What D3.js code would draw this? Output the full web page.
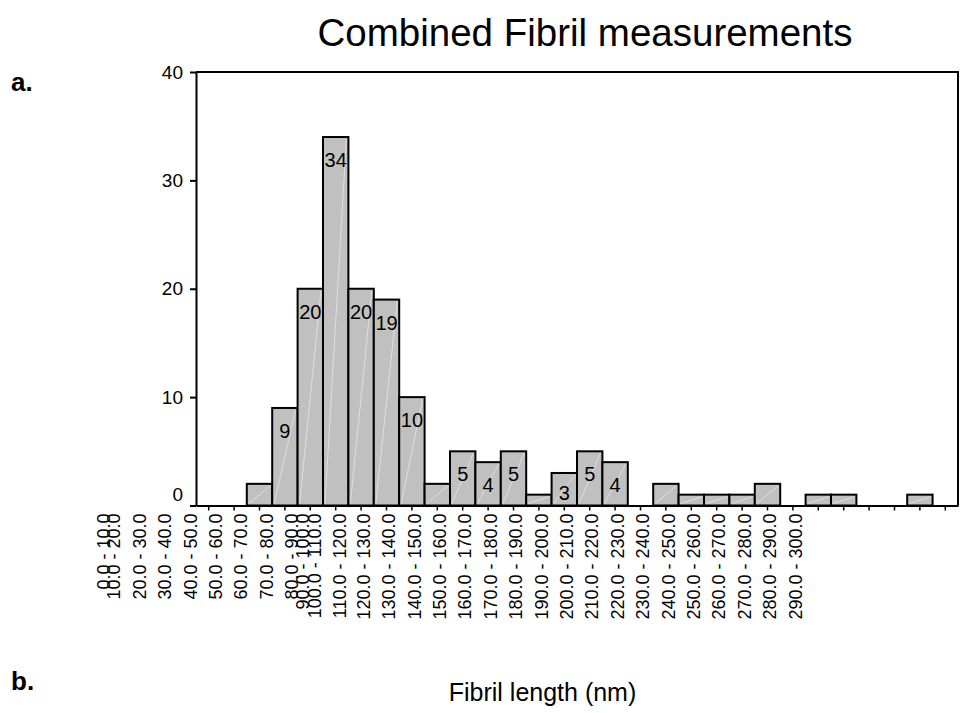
<!DOCTYPE html>
<html>
<head>
<meta charset="utf-8">
<script src="https://cdn.jsdelivr.net/npm/d3@7"></script>
<style>
  html, body { margin: 0; padding: 0; background: #fff; }
  svg { display: block; }
  svg text { font-family: "Liberation Sans", Arial, sans-serif; }
</style>
</head>
<body>
<svg id="chart" width="969" height="713"></svg>
<script>
// Length bins (nm) used as categories
const binLabels = [
  "0.0 - 10.0", "10.0 - 20.0", "20.0 - 30.0", "30.0 - 40.0", "40.0 - 50.0",
  "50.0 - 60.0", "60.0 - 70.0", "70.0 - 80.0", "80.0 - 90.0", "90.0 - 100.0",
  "100.0 - 110.0", "110.0 - 120.0", "120.0 - 130.0", "130.0 - 140.0", "140.0 - 150.0",
  "150.0 - 160.0", "160.0 - 170.0", "170.0 - 180.0", "180.0 - 190.0", "190.0 - 200.0",
  "200.0 - 210.0", "210.0 - 220.0", "220.0 - 230.0", "230.0 - 240.0", "240.0 - 250.0",
  "250.0 - 260.0", "260.0 - 270.0", "270.0 - 280.0", "280.0 - 290.0", "290.0 - 300.0"
];
// Number of fibrils in each bin
const counts = [0, 0, 2, 9, 20, 34, 20, 19, 10, 2, 5, 4, 5, 1, 3, 5, 4, 0, 2, 1, 1, 1, 2, 0, 1, 1, 0, 0, 1, 0];
const yTicks = [0, 10, 20, 30, 40];
const minLabelled = 3;

const svg = d3.select("#chart");
const plot = { left: 196, right: 958, top: 72, bottom: 505.5 };

const x = d3.scaleBand().domain(binLabels).range([plot.left, plot.right]).padding(0);
const y = d3.scaleLinear().domain([0, 40]).range([plot.bottom, plot.top]);

// Title and panel letters
svg.append("text").attr("x", 585).attr("y", 46).attr("text-anchor", "middle")
  .style("font-size", "38.5px").text("Combined Fibril measurements");
svg.append("text").attr("x", 11).attr("y", 91).style("font-size", "26px").style("font-weight", "bold").text("a.");
svg.append("text").attr("x", 11).attr("y", 690).style("font-size", "26px").style("font-weight", "bold").text("b.");
svg.append("text").attr("x", 542.5).attr("y", 701).attr("text-anchor", "middle")
  .style("font-size", "25px").text("Fibril length (nm)");

// Bars
const data = binLabels.map((b, i) => ({ bin: b, n: counts[i] }));
const bars = svg.append("g");
bars.selectAll("rect").data(data.filter(d => d.n > 0)).join("rect")
  .attr("x", d => x(d.bin)).attr("y", d => y(d.n))
  .attr("width", x.bandwidth()).attr("height", d => y(0) - y(d.n))
  .attr("fill", "#c0c0c0").attr("stroke", "#000").attr("stroke-width", 2);
// faint sheen across each bar
bars.selectAll("line").data(data.filter(d => d.n > 0)).join("line")
  .attr("x1", d => x(d.bin) + 2).attr("y1", y(0) - 2)
  .attr("x2", d => x(d.bin) + x.bandwidth() - 2).attr("y2", d => y(d.n) + 2)
  .attr("stroke", "#e6e6e6").attr("stroke-width", 1).attr("opacity", 0.8);

// Value labels inside bar tops
svg.append("g").selectAll("text").data(data.filter(d => d.n >= minLabelled)).join("text")
  .attr("x", d => x(d.bin) + x.bandwidth() / 2)
  .attr("y", d => Math.min(y(d.n) + 23, y(0) - 13))
  .attr("dy", "0.35em").attr("text-anchor", "middle")
  .style("font-size", "20px").text(d => d.n);

// Plot frame (top and right)
svg.append("path")
  .attr("d", `M${plot.left},${plot.top}H${plot.right}V${plot.bottom}`)
  .attr("fill", "none").attr("stroke", "#000").attr("stroke-width", 2);

// Y axis
const yAxis = svg.append("g").attr("transform", `translate(${plot.left},0)`)
  .call(d3.axisLeft(y).tickValues(yTicks).tickSize(6).tickPadding(7).tickSizeOuter(0));
yAxis.attr("font-family", null).attr("font-size", null);
yAxis.select(".domain").attr("stroke-width", 2);
yAxis.selectAll(".tick line").attr("stroke-width", 2);
yAxis.selectAll(".tick text").style("font-size", "19px").attr("fill", "#000")
  .attr("dy", d => d === 0 ? "-0.25em" : "0.32em");

// X axis with rotated bin labels; longer labels step further left
const xFont = 18;
const xAxis = svg.append("g").attr("transform", `translate(0,${plot.bottom})`)
  .call(d3.axisBottom(x).tickSize(5).tickSizeOuter(0));
xAxis.attr("font-family", null).attr("font-size", null);
xAxis.select(".domain").attr("stroke-width", 2);
xAxis.selectAll(".tick line").attr("stroke-width", 1.5);
xAxis.selectAll(".tick text")
  .style("font-size", xFont + "px").attr("fill", "#000")
  .attr("text-anchor", "end").attr("x", 0).attr("y", 0).attr("dy", "0.35em")
  .each(function () {
    const len = this.getComputedTextLength() * 17.5 / xFont;
    const shift = 1.546 * len - 9.4;
    d3.select(this).attr("transform", `translate(${-shift},8) rotate(-90)`);
  });
</script>
</body>
</html>
